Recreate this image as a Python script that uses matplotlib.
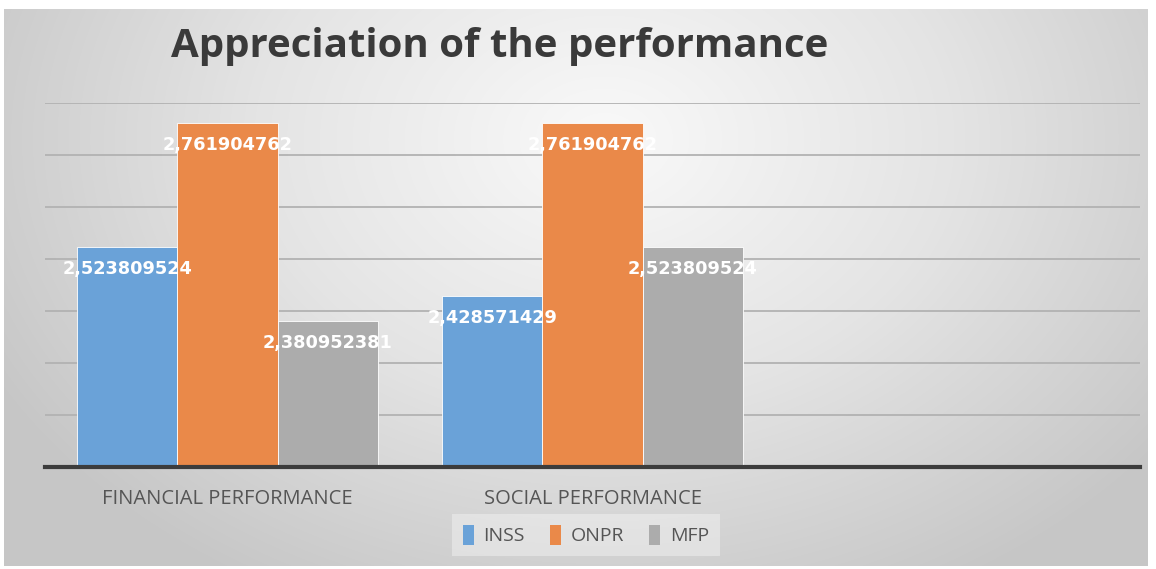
import numpy as np
import matplotlib
matplotlib.use("Agg")
import matplotlib.pyplot as plt
from matplotlib.colors import LinearSegmentedColormap
from matplotlib.patches import Patch

# chart data
categories = ["FINANCIAL PERFORMANCE", "SOCIAL PERFORMANCE", ""]
series = ["INSS", "ONPR", "MFP"]
inss = [2.523809524, 2.428571429, np.nan]
onpr = [2.761904762, 2.761904762, np.nan]
mfp = [2.380952381, 2.523809524, np.nan]
colors = ["#6aa2d8", "#ea8949", "#acacac"]

W, H = 1156, 569
fig = plt.figure(figsize=(W / 100, H / 100), dpi=100, facecolor="white")

# grey radial backdrop of the chart area
bg = fig.add_axes([4 / W, 3 / H, 1144 / W, 557 / H], zorder=0)
yy, xx = np.mgrid[0:557, 0:1144]
r = np.sqrt(((xx - 600) / 700.0) ** 2 + ((yy - 130) / 520.0) ** 2)
shade = LinearSegmentedColormap.from_list("shade", ["#f9f9f9", "#e4e4e4", "#c6c6c6"])
bg.imshow(np.clip(r, 0, 1), cmap=shade, vmin=0, vmax=1, aspect="auto",
          extent=[0, 1, 0, 1], interpolation="bilinear")
bg.set_axis_off()

ax = fig.add_axes([45 / W, (H - 467) / H, 1095 / W, 364 / H], zorder=1)
ax.patch.set_alpha(0)

x = np.arange(len(categories))
width = 0.274
for i, (name, vals) in enumerate(zip(series, [inss, onpr, mfp])):
    pos = x + (i - 1) * width
    ax.bar(pos, vals, width, color=colors[i], edgecolor="white",
           linewidth=0.6, zorder=3)
    for xp, v in zip(pos, vals):
        if np.isnan(v):
            continue
        ax.annotate(f"{v:.9f}".replace(".", ","), (xp, v), xytext=(0, -22),
                    textcoords="offset pixels", ha="center", va="center",
                    color="white", fontsize=12.8, fontweight="bold",
                    family="DejaVu Sans", zorder=4)

ax.set_xlim(-0.5, 2.5)
ax.set_ylim(2.1, 2.8)
ax.set_yticks(np.arange(2.2, 2.81, 0.1))
ax.yaxis.grid(True, color="#b2b2b2", linewidth=1.3, zorder=0)
ax.tick_params(left=False, labelleft=False, bottom=False)
ax.set_xticks(x)
ax.set_xticklabels(categories, family="Open Sans", fontsize=14.5, color="#555555")
ax.tick_params(axis="x", pad=12)
for s in ["top", "right", "left"]:
    ax.spines[s].set_visible(False)
ax.spines["bottom"].set_color("#3c3c3c")
ax.spines["bottom"].set_linewidth(3)
ax.spines["bottom"].set_zorder(5)

fig.text(500 / W, 1 - 47 / H, "Appreciation of the performance",
         ha="center", va="center", fontsize=29, fontweight="bold",
         family="Open Sans", color="#3a3a3a")

handles = [Patch(facecolor=c, edgecolor="none", label=n) for c, n in zip(colors, series)]
leg = fig.legend(handles=handles, loc="center", bbox_to_anchor=(586 / W, 1 - 535 / H),
                 ncol=3, frameon=True, handlelength=0.55, handleheight=1.2,
                 handletextpad=0.5, columnspacing=1.3, borderpad=0.55,
                 prop={"family": "Open Sans", "size": 14})
leg.get_frame().set_facecolor("white")
leg.get_frame().set_alpha(0.35)
leg.get_frame().set_edgecolor("none")
leg.get_frame().set_boxstyle("square", pad=0)
for t in leg.get_texts():
    t.set_color("#555555")

fig.savefig("out.png", dpi=100, facecolor="white")
